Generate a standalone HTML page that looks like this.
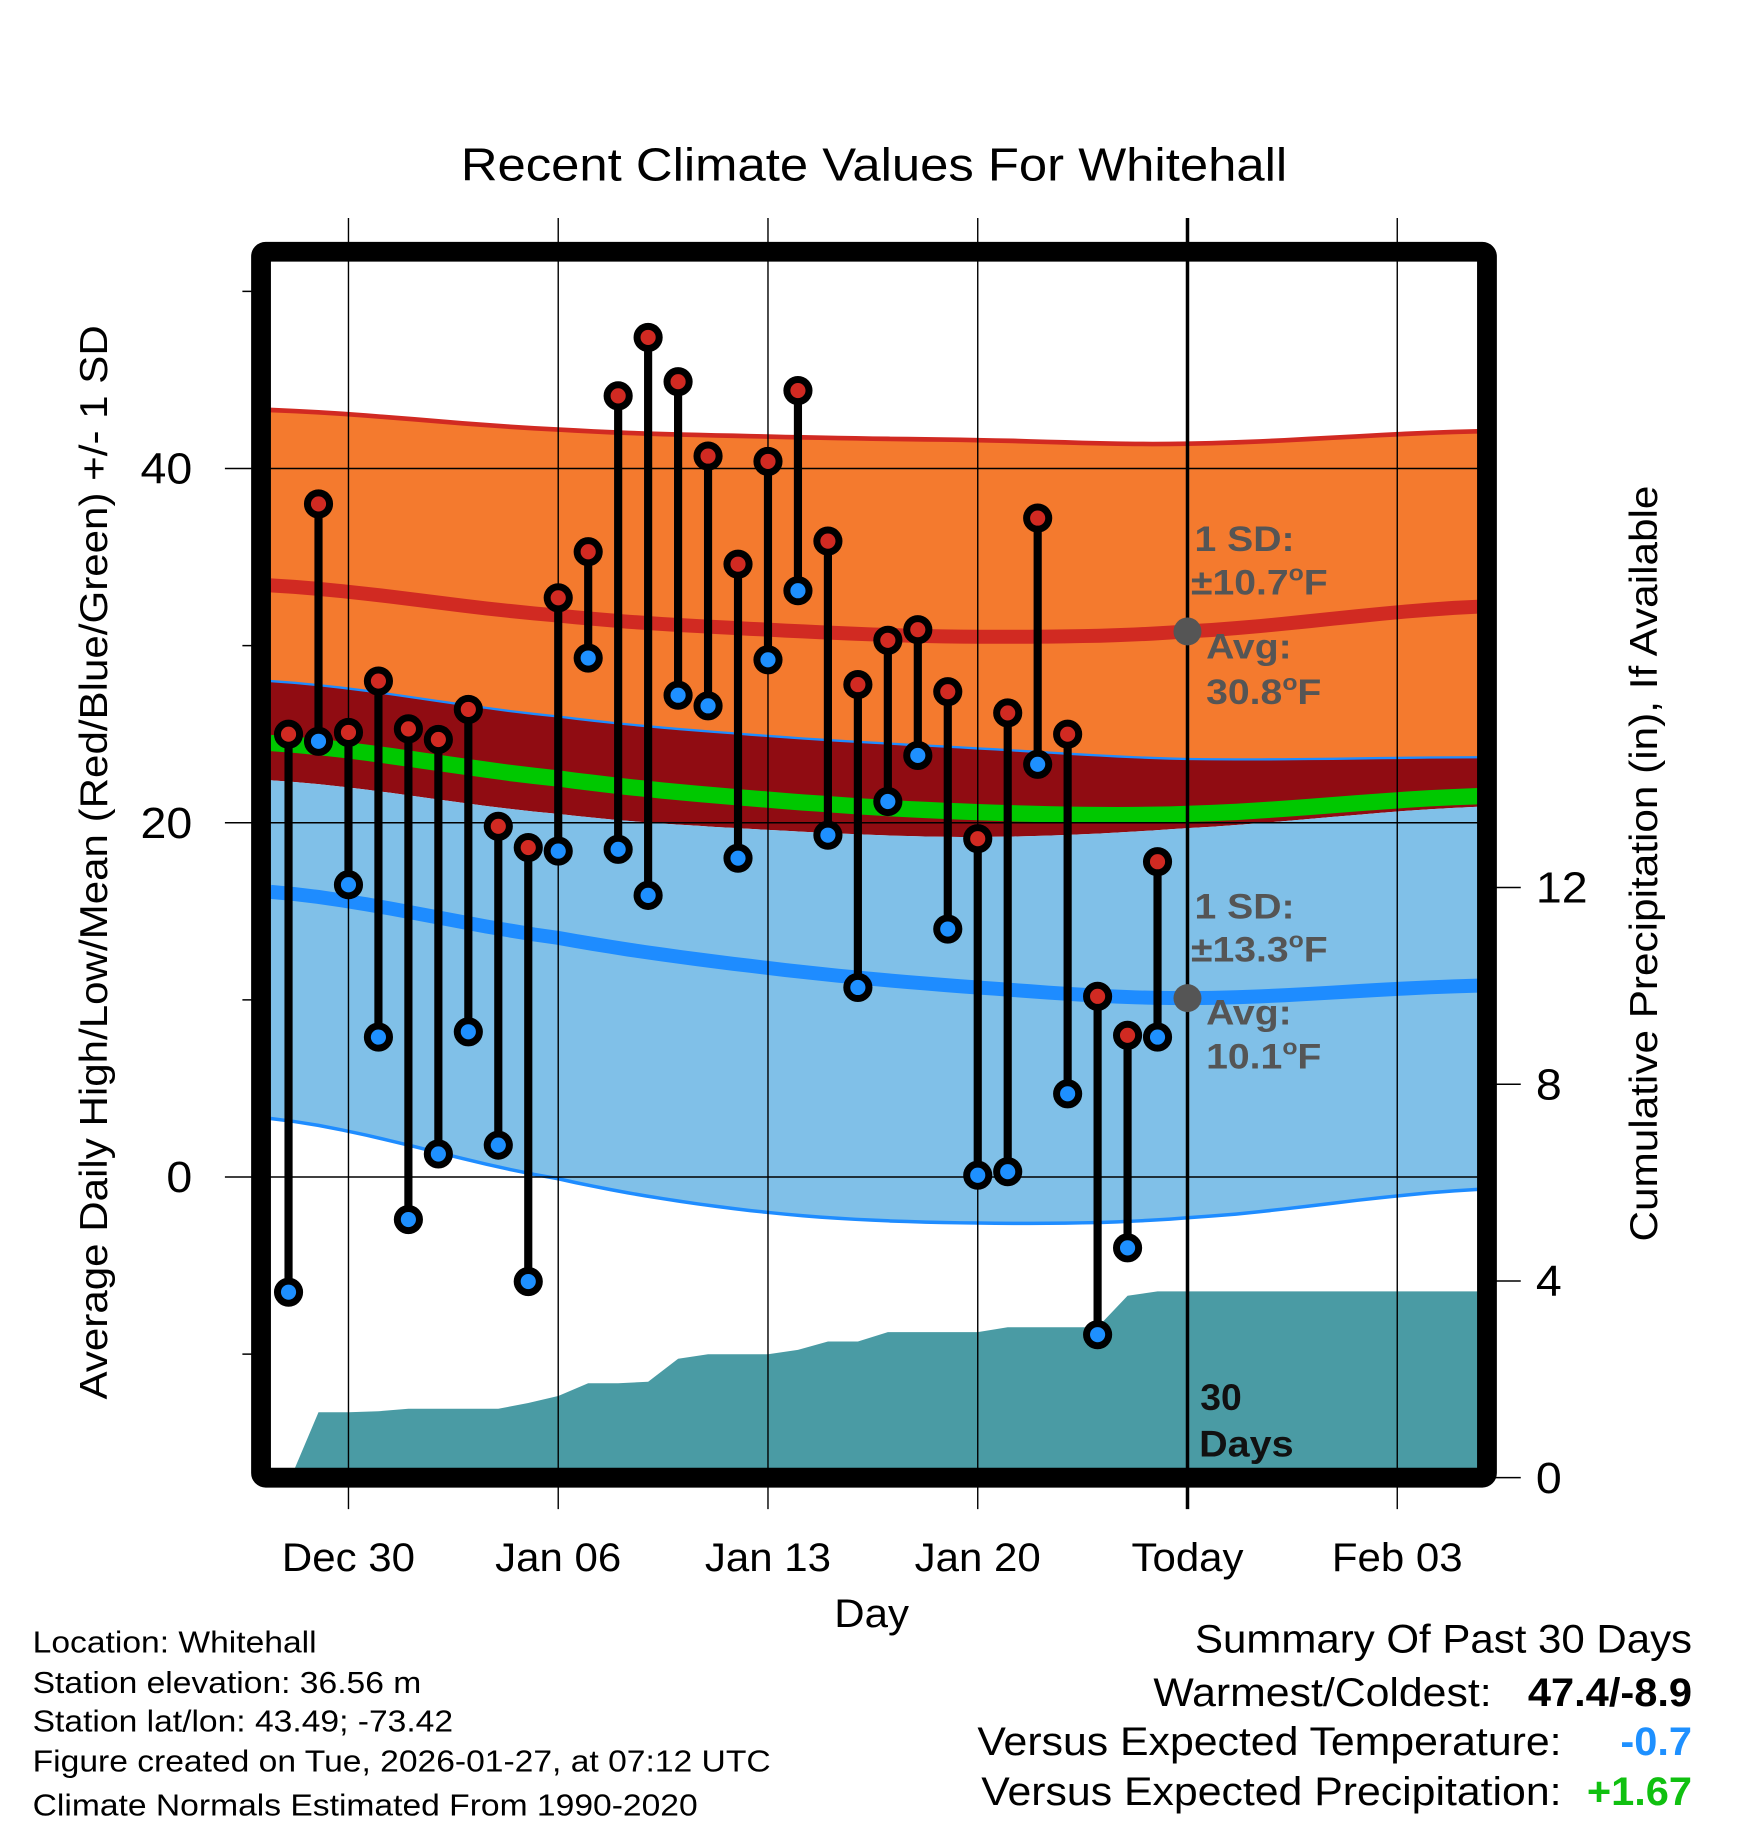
<!DOCTYPE html>
<html><head><meta charset="utf-8"><style>
html,body{margin:0;padding:0;background:#fff}
svg{display:block;font-family:"Liberation Sans",sans-serif}
</style></head><body>
<svg id="chart" xmlns="http://www.w3.org/2000/svg" width="1748" height="1828" viewBox="0 0 1500 1568.6">
<rect width="1500" height="1568.6" fill="#fff"/>
<g id="bands"></g><g id="precip"></g><g id="grid"></g><g id="marks"></g><g id="annot"></g><g id="frame"></g><g id="labels"></g>
</svg>
<script>
// ---- data ----
const days = ["Dec 28","Dec 29","Dec 30","Dec 31","Jan 01","Jan 02","Jan 03","Jan 04","Jan 05","Jan 06","Jan 07","Jan 08","Jan 09","Jan 10","Jan 11","Jan 12","Jan 13","Jan 14","Jan 15","Jan 16","Jan 17","Jan 18","Jan 19","Jan 20","Jan 21","Jan 22","Jan 23","Jan 24","Jan 25","Jan 26"];
const highs = [25.0,38.0,25.1,28.0,25.3,24.7,26.4,19.8,18.6,32.7,35.3,44.1,47.4,44.9,40.7,34.6,40.4,44.4,35.9,27.8,30.3,30.9,27.4,19.1,26.2,37.2,25.0,10.2,8.0,17.8];
const lows = [-6.5,24.6,16.5,7.9,-2.4,1.3,8.2,1.8,-5.9,18.4,29.3,18.5,15.9,27.2,26.6,18.0,29.2,33.1,19.3,10.7,21.2,23.8,14.0,0.1,0.3,23.3,4.7,-8.9,-4.0,7.9];
const precip = [0,1.33,1.33,1.35,1.40,1.40,1.40,1.40,1.52,1.66,1.92,1.92,1.95,2.42,2.51,2.51,2.51,2.60,2.77,2.77,2.96,2.96,2.96,2.96,3.06,3.06,3.06,3.06,3.70,3.79];
// normals sampled at day offsets (0 = Dec 28)
const normDays = [-0.6,9,16,23,30,39.7];
const highUpper = [43.3,42.2,41.8,41.6,41.4,42.1];
const highAvg = [33.4,31.7,30.9,30.5,30.8,32.2];
const highLower = [28.0,26.0,24.9,24.2,23.6,23.7];
const meanAvg = [24.5,22.5,21.3,20.6,20.5,21.5];
const lowUpper = [22.4,20.5,19.6,19.2,19.7,20.9];
const lowAvg = [16.1,13.5,11.8,10.7,10.1,10.8];
const lowLower = [3.3,-0.1,-2.0,-2.6,-2.3,-0.7];
const xTickLabels = ["Dec 30","Jan 06","Jan 13","Jan 20","Today","Feb 03"];
const xTickDays = [2,9,16,23,30,37];
const yTicks = [0,20,40];
const yMinor = [-10,10,30,50];
const pTicks = [0,4,8,12];

// ---- axes ----
const X = d => 247.6 + d*25.714;
const Y = v => 1010 - v*15.2;
const P = v => 1268 - v*42.2;
const NS="http://www.w3.org/2000/svg";
function mk(tag,attrs,parent,txt){const e=document.createElementNS(NS,tag);for(const k in attrs)e.setAttribute(k,attrs[k]);if(txt!==undefined)e.textContent=txt;parent.appendChild(e);return e;}
const g=id=>document.getElementById(id);

// smooth (Catmull-Rom) interpolation of normals
function curve(arr){const pts=[];const n=normDays.length;
 for(let k=0;k<n-1;k++){const p0=arr[Math.max(k-1,0)],p1=arr[k],p2=arr[k+1],p3=arr[Math.min(k+2,n-1)];
  for(let s=0;s<12;s++){const t=s/12;const v=0.5*((2*p1)+(-p0+p2)*t+(2*p0-5*p1+4*p2-p3)*t*t+(-p0+3*p1-3*p2+p3)*t*t*t);
   const d=normDays[k]+(normDays[k+1]-normDays[k])*t;pts.push([X(d),Y(v)]);}}
 pts.push([X(normDays[n-1]),Y(arr[n-1])]);return pts;}
const ps=p=>p.map(q=>q[0].toFixed(1)+","+q[1].toFixed(1)).join(" ");
function band(a,b,fill,name){const p=curve(a).concat(curve(b).reverse());const e=mk('polygon',{points:ps(p),fill:fill},g('bands'));}
function line(a,col,w,name){const e=mk('polyline',{points:ps(curve(a)),fill:'none',stroke:col,'stroke-width':w},g('bands'));}
band(highUpper,highLower,'#f47a2e','high-sd-band');
band(highLower,lowUpper,'#900c12','overlap-band');
band(lowUpper,lowLower,'#80c0e8','low-sd-band');
line(highUpper,'#d12a22',4,'high-upper-line');
line(highLower,'#1e8cff',2,'high-lower-line');
line(lowLower,'#1e8cff',3,'low-lower-line');
line(highAvg,'#d12a22',12,'high-avg-line');
line(lowAvg,'#1e8cff',12,'low-avg-line');
line(meanAvg,'#00c800',14,'mean-avg-line');

// precipitation
(function(){let pts=[[X(0)+2,P(0)]];precip.forEach((v,i)=>{if(i>0)pts.push([X(i),P(v)]);});pts.push([1268,P(precip[precip.length-1])]);pts.push([1268,1268]);const e=mk('polygon',{points:ps(pts),fill:'#4a9ba4'},g('precip'));})();

// grid
xTickDays.forEach((d,i)=>{const e=mk('line',{x1:X(d),x2:X(d),y1:187,y2:1295,stroke:'#000','stroke-width':i==4?3:1.2},g('grid'));});
yTicks.forEach(v=>{const e=mk('line',{x1:193,x2:1268,y1:Y(v),y2:Y(v),stroke:'#000','stroke-width':1.3},g('grid'));});
yMinor.forEach(v=>{const e=mk('line',{x1:208,x2:224,y1:Y(v),y2:Y(v),stroke:'#000','stroke-width':1.3},g('grid'));});
pTicks.forEach(v=>{const e=mk('line',{x1:1276,x2:1305,y1:P(v),y2:P(v),stroke:'#000','stroke-width':1.3},g('grid'));});

// marks
days.forEach((d,i)=>{const x=X(i);
 const s=mk('line',{x1:x,x2:x,y1:Y(highs[i]),y2:Y(lows[i]),stroke:'#000','stroke-width':7},g('marks'));
 const h=mk('circle',{cx:x,cy:Y(highs[i]),r:9.5,fill:'#d12a22',stroke:'#000','stroke-width':6},g('marks'));
 const l=mk('circle',{cx:x,cy:Y(lows[i]),r:9.5,fill:'#1e90ff',stroke:'#000','stroke-width':6},g('marks'));
});

// annotations
const an=g('annot');
const stretch=[];
[[highAvg[4],'±10.7','30.8',463,500,555,592],[lowAvg[4],'±13.3','10.1',778,815,869,905]].forEach((a,k)=>{
 const c=mk('circle',{cx:1019,cy:Y(a[0]),r:12,fill:'#555'},an);
 const st={fill:'#555','font-size':30,'font-weight':'bold'};
 const t1=mk('text',Object.assign({x:1025,y:a[3]+10},st),an,'1 SD:');
 const t2=mk('text',Object.assign({x:1022,y:a[4]+10},st),an);
 t2.innerHTML=a[1]+'<tspan dy="-12" font-size="19">o</tspan><tspan dy="12">F</tspan>';
 const t3=mk('text',Object.assign({x:1035,y:a[5]+10},st),an,'Avg:');
 const t4=mk('text',Object.assign({x:1035,y:a[6]+12},st),an);
 t4.innerHTML=a[2]+'<tspan dy="-12" font-size="19">o</tspan><tspan dy="12">F</tspan>';
 [t1,t2,t3,t4].forEach(t=>stretch.push([t,1.12]));
});
const dl=mk('text',{x:1030,y:1210,'font-size':32,'font-weight':'bold',fill:'#111'},an,'30');
const dl2=mk('text',{x:1029,y:1250,'font-size':32,'font-weight':'bold',fill:'#111'},an,'Days');
stretch.push([dl2,1.06]);

// frame
const fr=mk('rect',{x:224,y:216,width:1052,height:1052,rx:4,fill:'none',stroke:'#000','stroke-width':17},g('frame'));

// labels
const lb=g('labels');
function T(x,y,txt,size,name,extra,f){const e=mk('text',Object.assign({x:x,y:y,'font-size':size,fill:'#000'},extra||{}),lb,txt);if(f)stretch.push([e,f]);return e;}
T(750,155,'Recent Climate Values For Whitehall',40,'chart-title',{'text-anchor':'middle'},1.09);
yTicks.forEach(v=>T(165,Y(v)+13,String(v),37,'y-tick-label',{'text-anchor':'end'},1.08));
pTicks.forEach(v=>T(1318,P(v)+13,String(v),37,'precip-tick-label',null,1.08));
xTickDays.forEach((d,i)=>T(X(d),1348,xTickLabels[i],34,'x-tick-label',{'text-anchor':'middle'},1.06));
T(748,1396,'Day',34,'x-axis-title',{'text-anchor':'middle'},1.06);
T(0,0,'Average Daily High/Low/Mean (Red/Blue/Green) +/- 1 SD',33,'y-axis-title',{'text-anchor':'middle',transform:'translate(92,740) rotate(-90)'},1.095);
T(0,0,'Cumulative Precipitation (in), If Available',33,'precip-axis-title',{'text-anchor':'middle',transform:'translate(1422,741) rotate(-90)'},1.1);
['Location: Whitehall','Station elevation: 36.56 m','Station lat/lon: 43.49; -73.42','Figure created on Tue, 2026-01-27, at 07:12 UTC','Climate Normals Estimated From 1990-2020'].forEach((s,i)=>T(28,[1418,1453,1486,1520,1558][i],s,26,'footer-info-line',null,1.11));
T(1452,1418,'Summary Of Past 30 Days',34,'summary-title',{'text-anchor':'end'},1.06);
T(1280,1464,'Warmest/Coldest:',34,'warmest-coldest-label',{'text-anchor':'end'},1.08);
T(1452,1464,'47.4/-8.9',34,'warmest-coldest-value',{'text-anchor':'end','font-weight':'bold'},1.05);
T(1340,1506,'Versus Expected Temperature:',34,'temp-anomaly-label',{'text-anchor':'end'},1.08);
T(1452,1506,'-0.7',34,'temp-anomaly-value',{'text-anchor':'end','font-weight':'bold',fill:'#1e90ff'},1.05);
T(1340,1549,'Versus Expected Precipitation:',34,'precip-anomaly-label',{'text-anchor':'end'},1.08);
T(1452,1549,'+1.67',34,'precip-anomaly-value',{'text-anchor':'end','font-weight':'bold',fill:'#10c010'},1.05);
stretch.forEach(([e,f])=>{try{const L=e.getComputedTextLength();if(L>0){e.setAttribute('textLength',(L*f).toFixed(1));e.setAttribute('lengthAdjust','spacingAndGlyphs');}}catch(err){}});
</script>
</body></html>
